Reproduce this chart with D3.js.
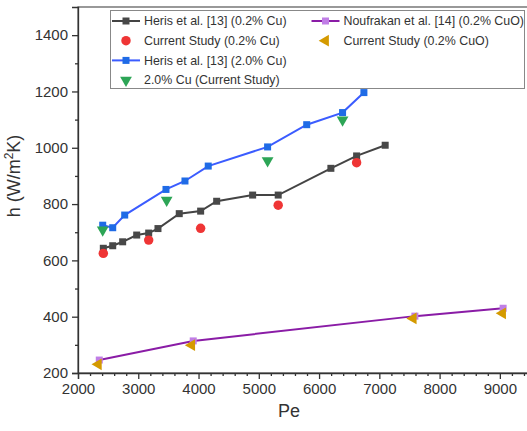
<!DOCTYPE html>
<html>
<head>
<meta charset="utf-8">
<script src="https://cdn.jsdelivr.net/npm/d3@7"></script>
<style>
  body { margin: 0; background: #fff; }
  text { font-family: "Liberation Sans", Arial, sans-serif; fill: #333; }
</style>
</head>
<body>
<div id="chart"></div>
<script>
// data
var herisLowPe = [2420, 2576, 2741, 2974, 3173, 3327, 3680, 4035, 4301, 4898, 5322, 6196, 6623, 7097];
var herisLowH = [643, 652, 666, 690, 697, 713, 766, 775, 810, 832, 832, 927, 971, 1009];

var studyLowPe = [2420, 3173, 4035, 5322, 6623];
var studyLowH = [625, 672, 714, 796, 947];

var herisHighPe = [2410, 2576, 2775, 3460, 3775, 4161, 5146, 5795, 6390, 6744];
var herisHighH = [725, 716, 761, 852, 882, 935, 1003, 1082, 1125, 1196];

var studyHighPe = [2410, 3471, 5146, 6390];
var studyHighH = [708, 814, 954, 1099];

var noufPe = [2353, 3912, 7590, 9054];
var noufH = [246, 314, 402, 430];

var studyCuOPe = [2337, 3886, 7561, 9044];
var studyCuOH = [231, 299, 394, 412];

var xTicks = [2000, 3000, 4000, 5000, 6000, 7000, 8000, 9000];
var yTicks = [200, 400, 600, 800, 1000, 1200, 1400];

var svgWidth = 527, svgHeight = 431;
var margin = { top: 7, right: -3, bottom: 58, left: 78 };
var width = svgWidth - margin.left - margin.right;
var height = svgHeight - margin.top - margin.bottom;

var svg = d3.select("#chart").append("svg")
    .attr("width", svgWidth)
    .attr("height", svgHeight);

var chartGroup = svg.append("g")
    .attr("transform", `translate(${margin.left}, ${margin.top})`);

var x = d3.scaleLinear().domain([2000, 9500]).range([0, width]);
var y = d3.scaleLinear().domain([200, 1500]).range([height, 0]);

// frame
chartGroup.append("rect")
    .attr("width", width).attr("height", height)
    .attr("fill", "none").attr("stroke", "#555").attr("stroke-width", 1.2);

// minor ticks
var xMinor = d3.range(2000, 9600, 200).filter(v => v % 1000 != 0);
var yMinor = d3.range(300, 1500, 200);

chartGroup.append("g")
    .attr("transform", `translate(0, ${height})`)
    .call(d3.axisBottom(x).tickValues(xTicks).tickFormat(d3.format("d")).tickSize(6).tickPadding(4));
chartGroup.append("g")
    .attr("transform", `translate(0, ${height})`)
    .call(d3.axisBottom(x).tickValues(xMinor).tickFormat("").tickSize(3))
    .select(".domain").remove();

chartGroup.append("g")
    .call(d3.axisLeft(y).tickValues(yTicks).tickFormat(d3.format("d")).tickSize(6).tickPadding(4));
chartGroup.append("g")
    .call(d3.axisLeft(y).tickValues(yMinor).tickFormat("").tickSize(3))
    .select(".domain").remove();

svg.selectAll(".tick line, .domain").attr("stroke", "#333").attr("stroke-width", 1.3);
svg.selectAll(".tick text").attr("font-size", "15px").attr("fill", "#333")
    .attr("font-family", "Liberation Sans, Arial, sans-serif");

// axis titles
chartGroup.append("text")
    .attr("x", x(5500))
    .attr("y", height + 44)
    .attr("text-anchor", "middle")
    .attr("font-size", "18px")
    .text("Pe");

var yTitle = chartGroup.append("text")
    .attr("transform", "rotate(-90)")
    .attr("x", -(176 - margin.top))
    .attr("y", 20 - margin.left)
    .attr("text-anchor", "middle")
    .attr("font-size", "18px");
yTitle.append("tspan").text("h (W/m");
yTitle.append("tspan").attr("font-size", "12px").attr("dy", "-7").text("2");
yTitle.append("tspan").attr("dy", "7").text("K)");

function zip(a, b) { return a.map((v, i) => [v, b[i]]); }

var line = d3.line().x(d => x(d[0])).y(d => y(d[1]));

function drawLine(data, color) {
    chartGroup.append("path")
        .datum(data)
        .attr("d", line)
        .attr("fill", "none")
        .attr("stroke", color)
        .attr("stroke-width", 2);
}

function drawSquares(data, color) {
    chartGroup.append("g").selectAll("rect")
        .data(data)
        .enter()
        .append("rect")
        .attr("x", d => x(d[0]) - 3.5)
        .attr("y", d => y(d[1]) - 3.5)
        .attr("width", 7)
        .attr("height", 7)
        .attr("fill", color);
}

function drawSymbols(data, type, size, color, rotate) {
    chartGroup.append("g").selectAll("path")
        .data(data)
        .enter()
        .append("path")
        .attr("d", d3.symbol().type(type).size(size))
        .attr("transform", d => `translate(${x(d[0])}, ${y(d[1])}) rotate(${rotate})`)
        .attr("fill", color);
}

var black = zip(herisLowPe, herisLowH);
var blue = zip(herisHighPe, herisHighH);
var purple = zip(noufPe, noufH);

drawLine(black, "#444");
drawLine(blue, "#3b5cff");
drawLine(purple, "#8a1ca6");

drawSquares(black, "#484848");
drawSquares(blue, "#1f6be6");
drawSquares(purple, "#c07ee6");

drawSymbols(zip(studyLowPe, studyLowH), d3.symbolCircle, 70, "#ef3535", 0);
drawSymbols(zip(studyHighPe, studyHighH), d3.symbolTriangle, 60, "#2da556", 180);
drawSymbols(zip(studyCuOPe, studyCuOH), d3.symbolTriangle, 60, "#d49a00", -90);

// legend
var legend = svg.append("g");
legend.append("rect")
    .attr("x", 110.5).attr("y", 10.5)
    .attr("width", 414).attr("height", 78)
    .attr("fill", "#fff").attr("stroke", "#888").attr("stroke-width", 1);

var legendItems = [
    { label: "Heris et al. [13] (0.2% Cu)", col: 0, row: 0, line: "#444", mark: "sq", color: "#484848" },
    { label: "Current Study (0.2% Cu)", col: 0, row: 1, mark: "circle", color: "#ef3535" },
    { label: "Heris et al. [13] (2.0% Cu)", col: 0, row: 2, line: "#3b5cff", mark: "sq", color: "#1f6be6" },
    { label: "2.0% Cu (Current Study)", col: 0, row: 3, mark: "down", color: "#2da556" },
    { label: "Noufrakan et al. [14] (0.2% CuO)", col: 1, row: 0, line: "#8a1ca6", mark: "sq", color: "#c07ee6" },
    { label: "Current Study (0.2% CuO)", col: 1, row: 1, mark: "left", color: "#d49a00" }
];

legendItems.forEach(function(item) {
    var cx = item.col == 0 ? 126 : 325.5;
    var cy = 21 + item.row * 19.7;
    var g = legend.append("g");
    if (item.line) {
        g.append("line")
            .attr("x1", cx - 14).attr("x2", cx + 14)
            .attr("y1", cy).attr("y2", cy)
            .attr("stroke", item.line).attr("stroke-width", 2);
    }
    if (item.mark == "sq") {
        g.append("rect").attr("x", cx - 3.5).attr("y", cy - 3.5)
            .attr("width", 7).attr("height", 7).attr("fill", item.color);
    } else if (item.mark == "circle") {
        g.append("path").attr("d", d3.symbol().type(d3.symbolCircle).size(70))
            .attr("transform", `translate(${cx}, ${cy})`).attr("fill", item.color);
    } else if (item.mark == "down") {
        g.append("path").attr("d", d3.symbol().type(d3.symbolTriangle).size(60))
            .attr("transform", `translate(${cx}, ${cy}) rotate(180)`).attr("fill", item.color);
    } else {
        g.append("path").attr("d", d3.symbol().type(d3.symbolTriangle).size(60))
            .attr("transform", `translate(${cx}, ${cy}) rotate(-90)`).attr("fill", item.color);
    }
    g.append("text")
        .attr("x", cx + 18)
        .attr("y", cy)
        .attr("dy", "0.35em")
        .attr("font-size", "12.4px")
        .text(item.label);
});
</script>
</body>
</html>
